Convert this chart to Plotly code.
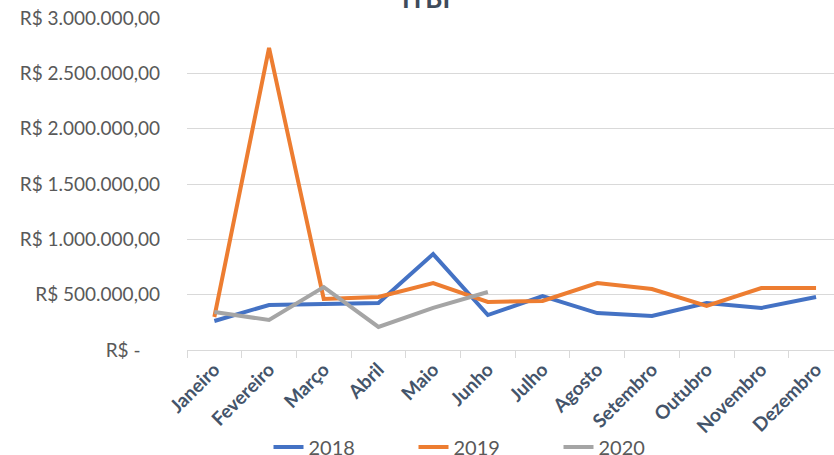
import plotly.graph_objects as go

meses = ["Janeiro", "Fevereiro", "Março", "Abril", "Maio", "Junho",
         "Julho", "Agosto", "Setembro", "Outubro", "Novembro", "Dezembro"]

itbi_2018 = [262000, 407000, 416000, 425000, 867000, 316000,
             488000, 334000, 307000, 425000, 380000, 479000]
itbi_2019 = [298000, 2730000, 461000, 479000, 605000, 434000,
             443000, 605000, 551000, 398000, 560000, 560000]
itbi_2020 = [343000, 271000, 569000, 208000, 380000, 524000]

y_ticks = [0, 500000, 1000000, 1500000, 2000000, 2500000, 3000000]
y_labels = ["R$ -\u00a0\u00a0\u00a0\u00a0", "R$ 500.000,00", "R$ 1.000.000,00",
            "R$ 1.500.000,00", "R$ 2.000.000,00", "R$ 2.500.000,00",
            "R$ 3.000.000,00"]

FONT = "Lato, Open Sans, sans-serif"

PLOT_L, PLOT_T, PLOT_B = 187, 18, 350
W, H = 834, 455
PLOT_H = PLOT_B - PLOT_T
PLOT_W = W - PLOT_L
CAT_W = 54.7

fig = go.Figure()
for nome, valores, cor in [("2018", itbi_2018, "#4472C4"),
                           ("2019", itbi_2019, "#ED7D31"),
                           ("2020", itbi_2020, "#A5A5A5")]:
    fig.add_trace(
        go.Scatter(
            x=meses[:len(valores)],
            y=valores,
            mode="lines",
            name=nome,
            line=dict(color=cor, width=4),
        )
    )

fig.update_layout(
    width=W,
    height=H,
    template="plotly_white",
    plot_bgcolor="white",
    paper_bgcolor="white",
    margin=dict(t=PLOT_T, b=H - PLOT_B, l=PLOT_L, r=0, autoexpand=False),
    font=dict(family=FONT, size=16, color="#595959"),
    showlegend=True,
    legend=dict(
        orientation="h",
        x=(486 - PLOT_L) / PLOT_W,
        xanchor="center",
        y=(PLOT_B - 447) / PLOT_H,
        yanchor="middle",
        font=dict(size=20, color="#595959"),
        entrywidth=100,
        entrywidthmode="pixels",
        bgcolor="rgba(0,0,0,0)",
    ),
    annotations=[
        dict(
            text="<b>ITBI</b>",
            xref="paper",
            yref="paper",
            x=(426 - PLOT_L) / PLOT_W,
            y=1.0 + 2 / PLOT_H,
            xanchor="center",
            yanchor="bottom",
            showarrow=False,
            font=dict(family=FONT, size=26, color="#3F4B5B"),
        )
    ],
)

fig.update_xaxes(
    type="category",
    categoryorder="array",
    categoryarray=meses,
    range=[-0.5, -0.5 + PLOT_W / CAT_W],
    tickson="boundaries",
    ticks="outside",
    ticklen=7,
    tickcolor="#D9D9D9",
    showline=True,
    linecolor="#D9D9D9",
    linewidth=1,
    showgrid=False,
    tickangle=-45,
    tickfont=dict(family=FONT, size=19, color="#44546A", weight="bold"),
)
fig.update_yaxes(
    range=[0, 3000000],
    tickvals=y_ticks,
    ticktext=y_labels,
    showgrid=True,
    gridcolor="#D9D9D9",
    gridwidth=1,
    zeroline=False,
    showline=False,
    ticks="",
    ticklabelstandoff=26,
    ticklabeloverflow="allow",
    tickfont=dict(family=FONT, size=19, color="#595959"),
)

# drop the default 8px page margin so the chart sits flush with the window
fig.write_html(
    "out.html",
    config={"displayModeBar": False},
    post_script="document.body.style.margin = '0';",
)
